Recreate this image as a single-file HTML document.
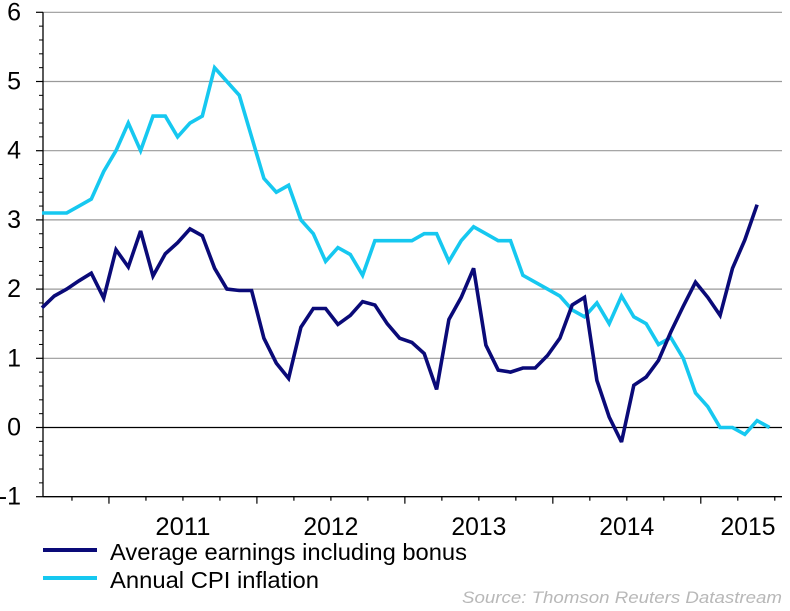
<!DOCTYPE html>
<html><head><meta charset="utf-8"><style>
html,body{margin:0;padding:0;background:#fff;}
svg{display:block;font-family:"Liberation Sans Narrow","Liberation Sans",sans-serif;}
</style></head><body>
<svg id="chart" width="790" height="611" viewBox="0 0 790 611" xmlns="http://www.w3.org/2000/svg">
<g id="grid"></g>
<g id="axes"></g>
<g id="series"></g>
<g>
  <g>
    <line x1="43" y1="550" x2="97" y2="550" stroke="#0a0a78" stroke-width="4"/>
    <text x="110" y="560" font-size="23" textLength="357" lengthAdjust="spacingAndGlyphs" fill="#000">Average earnings including bonus</text>
  </g>
  <g>
    <line x1="43" y1="578" x2="97" y2="578" stroke="#16c8f0" stroke-width="4"/>
    <text x="110" y="588" font-size="23" textLength="209" lengthAdjust="spacingAndGlyphs" fill="#000">Annual CPI inflation</text>
  </g>
</g>
<text x="782" y="603" text-anchor="end" font-size="17" font-style="italic" fill="#b8b8b8" textLength="320" lengthAdjust="spacingAndGlyphs">Source: Thomson Reuters Datastream</text>
</svg>
<script>
const cpiValues = [3.1,3.1,3.1,3.2,3.3,3.7,4.0,4.4,4.0,4.5,4.5,4.2,4.4,4.5,5.2,5.0,4.8,4.2,3.6,3.4,3.5,3.0,2.8,2.4,2.6,2.5,2.2,2.7,2.7,2.7,2.7,2.8,2.8,2.4,2.7,2.9,2.8,2.7,2.7,2.2,2.1,2.0,1.9,1.7,1.6,1.8,1.5,1.9,1.6,1.5,1.2,1.3,1.0,0.5,0.3,0.0,0.0,-0.1,0.1,0.0];
const earningsValues = [1.73,1.9,2.0,2.12,2.23,1.87,2.57,2.32,2.84,2.19,2.51,2.67,2.87,2.77,2.3,2.0,1.98,1.98,1.29,0.93,0.71,1.45,1.72,1.72,1.49,1.62,1.82,1.77,1.5,1.29,1.23,1.07,0.55,1.56,1.88,2.3,1.19,0.83,0.8,0.86,0.86,1.04,1.29,1.77,1.88,0.68,0.15,-0.21,0.61,0.73,0.97,1.38,1.75,2.1,1.88,1.62,2.3,2.71,3.22];
const yTicks = [-1,0,1,2,3,4,5,6];
const yearLabels = ["2011","2012","2013","2014","2015"];

const NS="http://www.w3.org/2000/svg";
const X0=42, MONTH=12.33, Y0=427.5, UNIT=69.2;
const xScale = i => X0 + i*MONTH;
const yScale = v => Y0 - v*UNIT;
const RIGHT=782, TOP=yScale(6), BOTTOM=yScale(-1);
function mk(tag, attrs, parent){const e=document.createElementNS(NS,tag);for(const k in attrs)e.setAttribute(k,attrs[k]);parent.appendChild(e);return e;}
const grid=document.getElementById('grid'), axes=document.getElementById('axes'), series=document.getElementById('series');

yTicks.forEach(v=>{
  const y=yScale(v);
  if(v!==-1){
    const g=mk('line',{x1:43,y1:y,x2:RIGHT,y2:y,stroke:v===0?'#000':'#9a9a9a','stroke-width':v===0?1.2:1.2},grid);
    
    
  }
  const t=mk('line',{x1:36,y1:y,x2:43,y2:y,stroke:'#000','stroke-width':1.2},axes);
  
  
  const lb=mk('text',{x:21,y:y+8,'text-anchor':'end','font-size':25,fill:'#000'},axes);
  lb.textContent=String(v);
  
  
  if(v<6){for(let k=1;k<5;k++){const ym=yScale(v+k*0.2);mk('line',{x1:39,y1:ym,x2:43,y2:ym,stroke:'#000','stroke-width':1},axes);}}
});
const yax=mk('line',{x1:43,y1:TOP,x2:43,y2:BOTTOM,stroke:'#000','stroke-width':1.3},axes);


const xax=mk('line',{x1:43,y1:BOTTOM,x2:RIGHT,y2:BOTTOM,stroke:'#000','stroke-width':1.3},axes);


const OFF=5.43;
for(let k=-1;k<20;k++){
  const m=OFF+3*k, x=xScale(m);
  if(x<44||x>RIGHT)continue;
  const major=((k%4)+4)%4===0;
  mk('line',{x1:x,y1:BOTTOM,x2:x,y2:BOTTOM+(major?7:4),stroke:'#000','stroke-width':1.2},axes);
}
yearLabels.forEach((lbl,i)=>{
  let cx=xScale(OFF+12*i+6);
  if(cx>760)cx=748;
  const t=mk('text',{x:cx,y:535,'text-anchor':'middle','font-size':25,fill:'#000',textLength:55,lengthAdjust:'spacingAndGlyphs'},axes);
  t.textContent=lbl;
  
  
});
function drawLine(vals,color,name){
  const d=vals.map((v,i)=>(i?'L':'M')+xScale(i).toFixed(1)+' '+yScale(v).toFixed(1)).join(' ');
  const p=mk('path',{d:d,fill:'none',stroke:color,'stroke-width':3.6,'stroke-linejoin':'miter','stroke-miterlimit':3},series);
  
  
}
drawLine(cpiValues,'#16c8f0','cpi-inflation-line');
drawLine(earningsValues,'#0a0a78','average-earnings-line');
</script>
</body></html>
